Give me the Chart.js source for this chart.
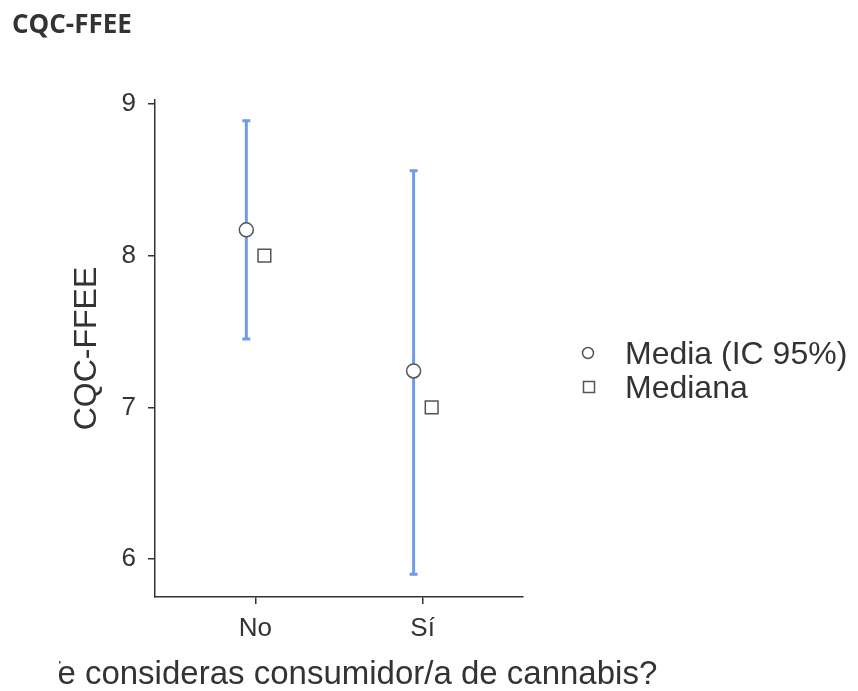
<!DOCTYPE html>
<html>
<head>
<meta charset="utf-8">
<script src="https://cdn.jsdelivr.net/npm/chart.js@4"></script>
<style>
  html, body { margin: 0; padding: 0; background: #ffffff; }
  canvas { display: block; }
</style>
</head>
<body>
<canvas id="chart" width="858" height="691"></canvas>
<script>
// Group labels and summary statistics per group
const categories = ['No', 'Sí'];
const meanValues = [8.17, 7.24];
const ciLower = [7.45, 5.90];
const ciUpper = [8.89, 8.56];
const medianValues = [8.0, 7.0];
const yTicks = [6, 7, 8, 9];
const seriesNames = ['Media (IC 95%)', 'Mediana'];
const chartTitle = 'CQC-FFEE';
const yTitle = 'CQC-FFEE';
const xTitle = '¿Te consideras consumidor/a de cannabis?';

// horizontal dodge between mean and median markers (in category units)
const DODGE = 0.054;
const SANS = '"Liberation Sans", Arial, sans-serif';
const INK = '#333333';
const BAR_BLUE = '#6e9ceb';

const errorBars = {
  id: 'errorBars',
  beforeDatasetsDraw(chart) {
    const { ctx, scales: { x, y } } = chart;
    ctx.save();
    ctx.strokeStyle = BAR_BLUE;
    ctx.lineWidth = 3;
    ctx.lineCap = 'butt';
    categories.forEach((c, i) => {
      const px = x.getPixelForValue(i + 1 - DODGE);
      const top = y.getPixelForValue(ciUpper[i]);
      const bot = y.getPixelForValue(ciLower[i]);
      ctx.beginPath();
      ctx.moveTo(px, top);
      ctx.lineTo(px, bot);
      ctx.moveTo(px - 4, top);
      ctx.lineTo(px + 4, top);
      ctx.moveTo(px - 4, bot);
      ctx.lineTo(px + 4, bot);
      ctx.stroke();
    });
    ctx.restore();
  }
};

const textLayer = {
  id: 'textLayer',
  afterDraw(chart) {
    const { ctx, chartArea: a } = chart;
    ctx.save();
    // heading
    ctx.fillStyle = INK;
    ctx.font = 'bold 26px "Open Sans", sans-serif';
    ctx.textAlign = 'left';
    ctx.textBaseline = 'alphabetic';
    ctx.fillText(chartTitle, 12, 33);

    // y axis title
    ctx.save();
    ctx.translate(96, (a.top + a.bottom) / 2);
    ctx.rotate(-Math.PI / 2);
    ctx.font = '32px ' + SANS;
    ctx.textAlign = 'center';
    ctx.fillText(yTitle, 0, 0);
    ctx.restore();

    // x axis title (left edge of the drawing is cut off)
    ctx.save();
    ctx.beginPath();
    ctx.rect(59, 640, 858, 51);
    ctx.clip();
    ctx.font = '33px ' + SANS;
    ctx.textAlign = 'center';
    ctx.fillText(xTitle, (a.left + a.right) / 2, 684);
    ctx.restore();

    // legend
    ctx.strokeStyle = '#555555';
    ctx.lineWidth = 1.5;
    ctx.fillStyle = '#ffffff';
    ctx.beginPath();
    ctx.arc(588, 353, 5.5, 0, Math.PI * 2);
    ctx.fill();
    ctx.stroke();
    ctx.beginPath();
    ctx.rect(589 - 5.5, 387 - 5.5, 11, 11);
    ctx.fill();
    ctx.stroke();
    ctx.fillStyle = INK;
    ctx.font = '32px ' + SANS;
    ctx.textAlign = 'left';
    ctx.textBaseline = 'middle';
    ctx.fillText(seriesNames[0], 625, 355);
    ctx.fillText(seriesNames[1], 625, 389);
    ctx.restore();
  }
};

new Chart(document.getElementById('chart'), {
  type: 'scatter',
  data: {
    datasets: [
      {
        label: seriesNames[0],
        data: categories.map((c, i) => ({ x: i + 1 - DODGE, y: meanValues[i] })),
        pointStyle: 'circle',
        radius: 7,
        backgroundColor: '#ffffff',
        borderColor: '#555555',
        borderWidth: 1.5
      },
      {
        label: seriesNames[1],
        data: categories.map((c, i) => ({ x: i + 1 + DODGE, y: medianValues[i] })),
        pointStyle: 'rect',
        radius: 9,
        backgroundColor: '#ffffff',
        borderColor: '#555555',
        borderWidth: 1.5
      }
    ]
  },
  options: {
    responsive: false,
    animation: false,
    events: [],
    layout: { padding: { top: 100, right: 335, left: 0, bottom: 0 } },
    plugins: { legend: { display: false }, tooltip: { enabled: false }, title: { display: false } },
    scales: {
      x: {
        type: 'linear',
        min: 0.4,
        max: 2.6,
        afterBuildTicks(s) { s.ticks = categories.map((c, i) => ({ value: i + 1 })); },
        afterFit(s) { s.height = 94; },
        ticks: {
          callback: (v) => categories[Math.round(v) - 1],
          font: { family: SANS, size: 26 },
          color: INK,
          padding: 9,
          maxRotation: 0
        },
        grid: { drawOnChartArea: false, tickLength: 7, color: INK, lineWidth: 1.5 },
        border: { color: INK, width: 1.5 }
      },
      y: {
        type: 'linear',
        min: 5.75,
        max: 9.026,
        afterBuildTicks(s) { s.ticks = yTicks.map(v => ({ value: v })); },
        afterFit(s) { s.width = 155; },
        ticks: {
          font: { family: SANS, size: 26 },
          color: INK,
          padding: 12
        },
        grid: { drawOnChartArea: false, tickLength: 7, color: INK, lineWidth: 1.5 },
        border: { color: INK, width: 1.5 }
      }
    }
  },
  plugins: [errorBars, textLayer]
});
</script>
</body>
</html>
